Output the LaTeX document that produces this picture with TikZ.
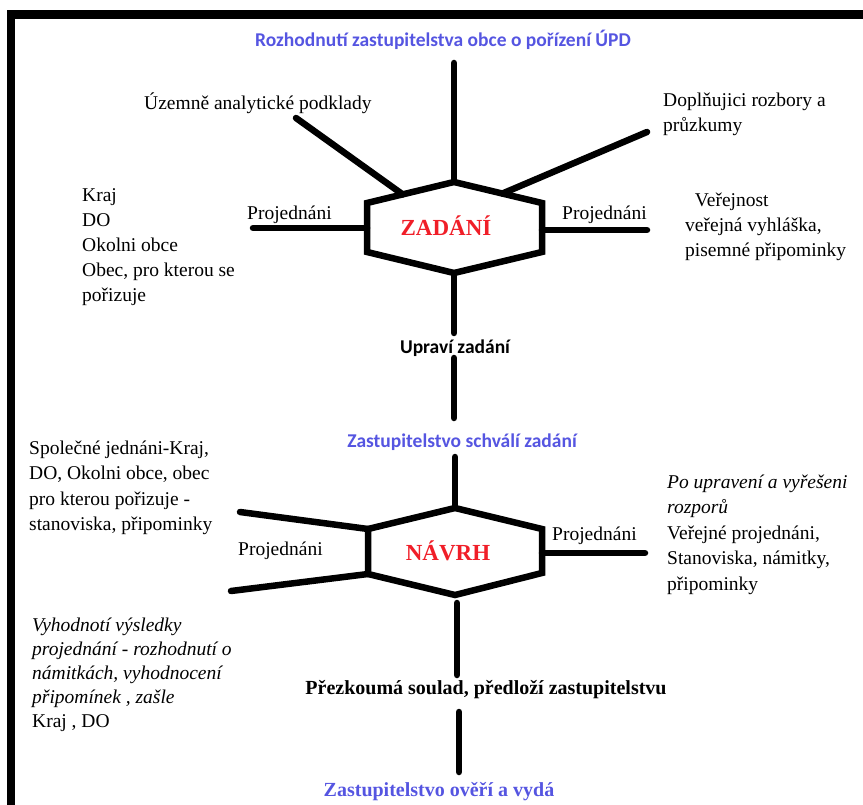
\documentclass[tikz,border=0pt]{standalone}
\usepackage{fontspec}
\usetikzlibrary{calc}
\setmainfont{Liberation Serif}
\newfontfamily\serifff{Liberation Serif}
\newfontfamily\calib{Carlito}
\definecolor{ttlblue}{RGB}{85,85,225}
\definecolor{hexred}{RGB}{240,30,40}
\tikzset{
  frame/.style={line width=8.5pt, line join=miter},
  conn/.style={line width=6.5pt, line cap=round},
  hexline/.style={line width=6.5pt, line join=miter},
  txt/.style={inner sep=0pt, font=\serifff\fontsize{19.5}{25}\selectfont},
  blk/.style={txt, align=left, anchor=north west},
  lbl/.style={txt, anchor=mid west},
  ttl/.style={inner sep=0pt, font=\calib\bfseries\fontsize{19.5}{24}\selectfont, text=ttlblue},
  act/.style={inner sep=0pt, font=\calib\bfseries\fontsize{19.5}{24}\selectfont},
  hexlabel/.style={inner sep=0pt, font=\serifff\bfseries\fontsize{23}{26}\selectfont, text=hexred}
}
\begin{document}
\begin{tikzpicture}[x=1pt,y=-1pt]
\useasboundingbox (0,0) rectangle (863,805);
% frame
\coordinate (fb) at (11,805);
\coordinate (fc) at (11,14.5);
\coordinate (fr) at (863,14.5);
\draw[frame] (fb) -- (fc) -- (fr);

% titles
\node[ttl] (t1) at (443,40) {Rozhodnutí zastupitelstva obce o pořízení ÚPD};

% ZADANI hexagon
\coordinate (zt) at (454,182);
\coordinate (zur) at (542,203);
\coordinate (zlr) at (542,252);
\coordinate (zb) at (454,273);
\coordinate (zll) at (367,252);
\coordinate (zul) at (367,203);
\draw[hexline] (zt) -- (zur) -- (zlr) -- (zb) -- (zll) -- (zul) -- cycle;
\node[hexlabel] (zad) at (446,226) {ZADÁNÍ};

\coordinate (ztop) at (454,63);
\coordinate (zua) at (296,118);
\coordinate (zdo) at (647,132);
\coordinate (zlh) at (367,228);
\coordinate (zlend) at (253,228);
\coordinate (zrh) at (542,230);
\coordinate (zrend) at (647,230);
\coordinate (zdown) at (454,333);
\draw[conn] (zt) -- (ztop);
\draw[conn] ($(zul)!0.41!(zt)$) -- (zua);
\draw[conn] ($(zt)!0.55!(zur)$) -- (zdo);
\draw[conn] (zlh) -- (zlend);
\draw[conn] (zrh) -- (zrend);
\draw[conn] (zb) -- (zdown);

\node[txt, anchor=mid west] (uap) at (144,107) {Územně analytické podklady};
\node[blk] (dop) at (663,88.4) {\strut Doplňujici rozbory a\\průzkumy};
\node[blk] (kraj) at (82,183.4) {\strut Kraj\\DO\\Okolni obce\\Obec, pro kterou se\\pořizuje};
\node[lbl] (pj1) at (247,217) {Projednáni};
\node[lbl] (pj2) at (562,217) {Projednáni};
\node[blk] (ver) at (685,188.4) {\strut\ \ Veřejnost\\veřejná vyhláška,\\pisemné připominky};

\node[act] (upr) at (455,348) {Upraví zadání};
\coordinate (u1) at (454,358);
\coordinate (u2) at (454,418);
\draw[conn] (u1) -- (u2);
\node[ttl] (schv) at (462,442) {Zastupitelstvo schválí zadání};

% NAVRH hexagon
\coordinate (nt) at (455,508);
\coordinate (nur) at (542,529);
\coordinate (nlr) at (542,573);
\coordinate (nb) at (455,595);
\coordinate (nll) at (368,574);
\coordinate (nul) at (368,529);
\draw[hexline] (nt) -- (nur) -- (nlr) -- (nb) -- (nll) -- (nul) -- cycle;
\node[hexlabel] (nav) at (448,551) {NÁVRH};

\coordinate (ntop) at (455,457);
\coordinate (nlu) at (240,512);
\coordinate (nld) at (231,591);
\coordinate (nrh) at (542,553);
\coordinate (nrend) at (645,553);
\draw[conn] (nt) -- (ntop);
\draw[conn] (nul) -- (nlu);
\draw[conn] (nll) -- (nld);
\draw[conn] (nrh) -- (nrend);

\node[blk, font=\serifff\fontsize{19.5}{25.5}\selectfont] (spol) at (29,436.4) {\strut Společné jednáni-Kraj,\\DO, Okolni obce, obec\\pro kterou pořizuje -\\stanoviska, připominky};
\node[lbl] (pj3) at (238,553) {Projednáni};
\node[lbl] (pj4) at (552,538) {Projednáni};
\node[blk, font=\serifff\fontsize{19.5}{25.5}\selectfont] (por) at (667,470.4) {\strut\textit{Po upravení a vyřešeni}\\\textit{rozporů}\\Veřejné projednáni,\\Stanoviska, námitky,\\připominky};

\node[blk, font=\serifff\fontsize{19.5}{24}\selectfont] (vyh) at (32,614.4) {\strut\textit{Vyhodnotí výsledky}\\\textit{projednání - rozhodnutí o}\\\textit{námitkách, vyhodnocení}\\\textit{připomínek , zašle}\\Kraj , DO};

\coordinate (b1) at (457,603);
\coordinate (b2) at (457,675);
\draw[conn] (b1) -- (b2);
\node[txt, font=\serifff\bfseries\fontsize{20}{24}\selectfont] (prez) at (486,690) {Přezkoumá soulad, předloží zastupitelstvu};
\coordinate (b3) at (459,712);
\coordinate (b4) at (459,772);
\draw[conn] (b3) -- (b4);
\node[txt, font=\serifff\bfseries\fontsize{20}{24}\selectfont, text=ttlblue] (vyd) at (439,792) {Zastupitelstvo ověří a vydá};
\end{tikzpicture}
\end{document}
